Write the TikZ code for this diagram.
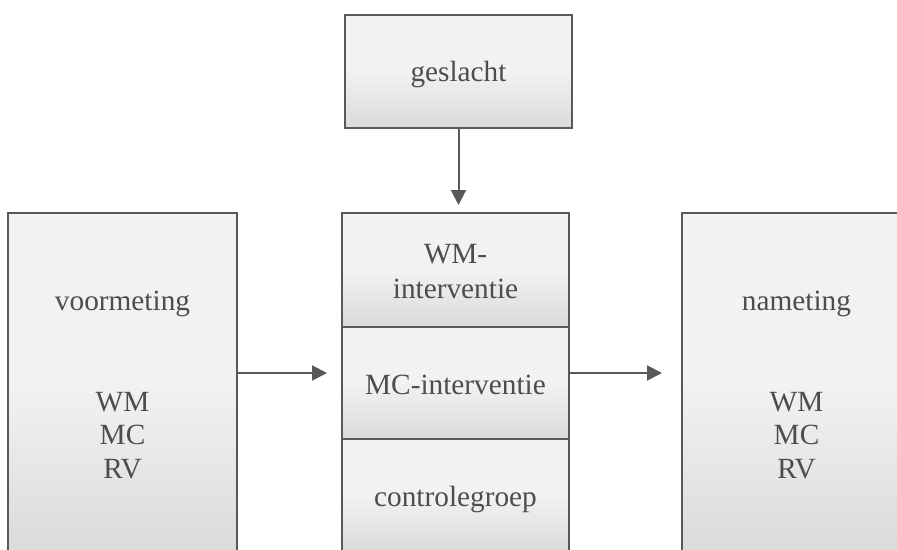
\documentclass[tikz,border=0pt]{standalone}
\usepackage{fontspec}
\setmainfont{Liberation Serif}
\usetikzlibrary{arrows.meta}
\definecolor{boxlight}{HTML}{F2F2F2}
\definecolor{boxdark}{HTML}{DADADA}
\definecolor{edge}{HTML}{595959}
\definecolor{txt}{HTML}{4D4D4D}
\begin{document}
\begin{tikzpicture}[x=1pt,y=-1pt,
  box/.style={draw=edge,line width=2pt,top color=boxlight,bottom color=boxdark,middle color=boxlight,
    anchor=north west,inner sep=0pt,outer sep=0pt},
  lbl/.style={anchor=base,text=txt,font=\fontsize{29.3}{33}\selectfont,inner sep=0pt},
  conn/.style={draw=edge,line width=2pt,-{Triangle[length=15pt,width=15pt]}}]
\useasboundingbox (0,0) rectangle (897,549);
\clip (0,0) rectangle (897,549);
% boxes
\node[box,minimum width=227pt,minimum height=113pt] (gesl) at (345,15) {};
\node[box,minimum width=229pt,minimum height=340pt] (pre) at (8,213) {};
\node[box,minimum width=227pt,minimum height=114pt] (wmi) at (342,213) {};
\node[box,minimum width=227pt,minimum height=112pt] (mci) at (342,327) {};
\node[box,minimum width=227pt,minimum height=114pt] (ctl) at (342,439) {};
\node[box,minimum width=229pt,minimum height=340pt] (post) at (682,213) {};
% labels
\node[lbl] (tgesl) at (458.5,81.7) {geslacht};
\node[lbl] (tpre) at (122.5,310.5) {voormeting};
\node[lbl] (tpre1) at (122.5,411) {WM};
\node[lbl] (tpre2) at (122.5,444.5) {MC};
\node[lbl] (tpre3) at (122.5,478) {RV};
\node[lbl] (twm1) at (455.5,263) {WM-};
\node[lbl] (twm2) at (455.5,298) {interventie};
\node[lbl] (tmc) at (455.5,394) {MC-interventie};
\node[lbl] (tctl) at (455.5,506.5) {controlegroep};
\node[lbl] (tpost) at (796.5,310) {nameting};
\node[lbl] (tpost1) at (796.5,411) {WM};
\node[lbl] (tpost2) at (796.5,444.5) {MC};
\node[lbl] (tpost3) at (796.5,478) {RV};
% connectors
\coordinate (a0) at (458.5,205);
\coordinate (a1) at (327,373);
\coordinate (a2) at (662,373);
\draw[conn] (gesl.south) -- (a0);
\draw[conn] (pre.east |- a1) -- (a1);
\draw[conn] (mci.east |- a2) -- (a2);
\end{tikzpicture}
\end{document}
